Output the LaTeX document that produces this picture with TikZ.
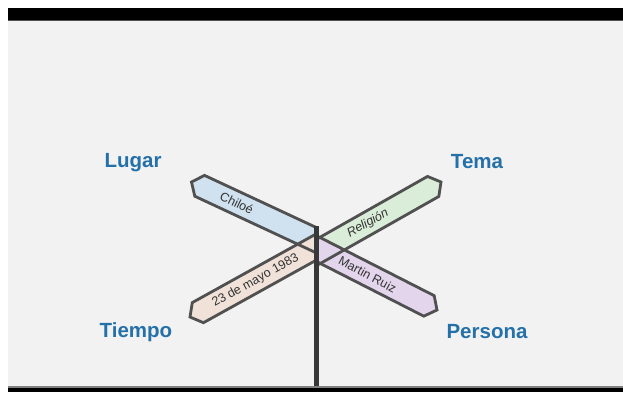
\documentclass[tikz,border=0pt]{standalone}
\usepackage{fontspec}
\setmainfont{Liberation Sans}
\definecolor{bgray}{HTML}{F2F2F2}
\definecolor{lblue}{HTML}{2470A8}
\definecolor{edge}{HTML}{505050}
\definecolor{fblue}{HTML}{D0E2EF}
\definecolor{fgreen}{HTML}{DAEDD8}
\definecolor{fpeach}{HTML}{F0E2D9}
\definecolor{flav}{HTML}{E2D5EC}
\tikzset{
  signbox/.style={draw=edge, line width=2.8pt, line join=miter},
  signtext/.style={font=\fontsize{12.5}{14}\selectfont, text=black!80, inner sep=0pt},
  catlabel/.style={font=\fontsize{20.5}{24}\selectfont\bfseries, text=lblue},
  chiloepos/.style={shift={(191.5,182)}, rotate=-25},
  fechapos/.style={shift={(190,317)}, rotate=29},
  religionpos/.style={shift={(441,182)}, rotate=209.5},
  martinpos/.style={shift={(437,310)}, rotate=153}
}
\newcommand{\signpath}{(0pt,0pt) -- (9pt,11.5pt) -- (165pt,11.5pt) -- (165pt,-11.5pt) -- (9pt,-11.5pt) -- cycle}
\begin{document}
\begin{tikzpicture}[x=1pt,y=-1pt]
\useasboundingbox (0,0) rectangle (623,392);
\fill[white] (0,0) rectangle (623,392);
\fill[black] (8,8) rectangle (623,20);
\fill[bgray] (8,20) rectangle (623,387);
\fill[edge] (8,19.5) rectangle (623,21);
\fill[black!50] (8,385.5) rectangle (623,387.5);
\fill[black] (8,387.5) rectangle (623,392);
% left signs
\begin{scope}
  \clip (0,0) rectangle (316,392);
  \begin{scope}[chiloepos] \fill[fblue] \signpath; \end{scope}
  \begin{scope}[fechapos] \fill[fpeach] \signpath; \end{scope}
  \begin{scope}[chiloepos] \draw[signbox] \signpath;
    \node[signtext, rotate=-26] (chiloe) at (50pt,0pt) {Chiloé}; \end{scope}
  \begin{scope}[fechapos] \draw[signbox] \signpath;
    \node[signtext, rotate=29] (fecha) at (75pt,0pt) {23 de mayo 1983}; \end{scope}
\end{scope}
% right signs
\begin{scope}
  \clip (316,0) rectangle (623,392);
  \begin{scope}[religionpos] \fill[fgreen] \signpath; \end{scope}
  \begin{scope}[martinpos] \fill[flav] \signpath; \end{scope}
  \begin{scope}[religionpos] \draw[signbox] \signpath;
    \node[signtext, rotate=29] (religion) at (84pt,0pt) {\itshape Religión}; \end{scope}
  \begin{scope}[martinpos] \draw[signbox] \signpath;
    \node[signtext, rotate=-28] (martin) at (78pt,0pt) {Martin Ruiz}; \end{scope}
\end{scope}
% pole
\draw[line width=5pt, color=black!78] (316,226) -- (316,386);
% labels
\node[catlabel] (lugar) at (133,163) {Lugar};
\node[catlabel] (tema) at (477,161.5) {Tema};
\node[catlabel] (tiempo) at (136,332) {Tiempo};
\node[catlabel] (persona) at (487,331.5) {Persona};
\end{tikzpicture}
\end{document}
